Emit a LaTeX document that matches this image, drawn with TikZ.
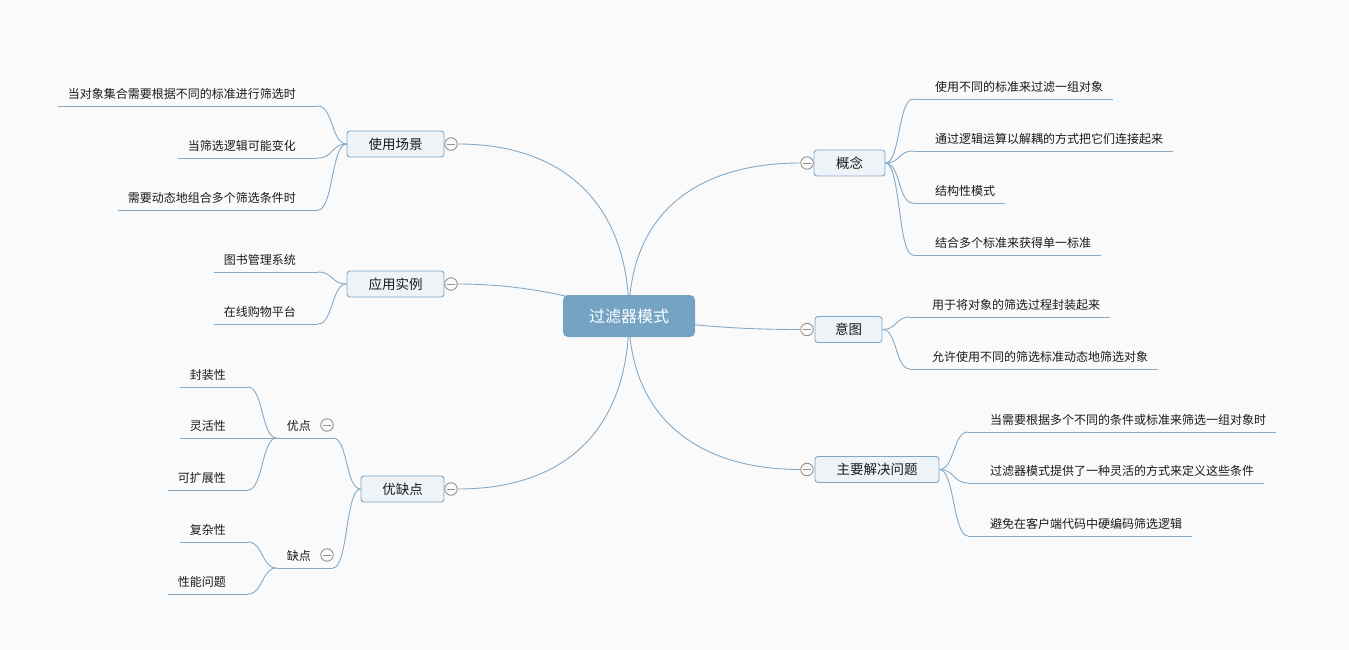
\documentclass[tikz,border=0pt]{standalone}
\usepackage{fontspec}
\setmainfont{Noto Sans CJK SC}
\usetikzlibrary{backgrounds}
\definecolor{bgc}{HTML}{FAFAFA}
\definecolor{rootc}{HTML}{74A3C3}
\definecolor{linec}{HTML}{84AAC8}
\definecolor{topicfill}{HTML}{EEF3F8}
\definecolor{topicline}{HTML}{7FA8C8}
\definecolor{foldc}{HTML}{939393}
\definecolor{txt}{HTML}{1A1A1A}
\tikzset{
  x=1pt, y=-1pt,
  root/.style={fill=rootc, rounded corners=5pt, minimum width=132pt, minimum height=42pt,
    inner sep=0pt, text=white, font=\fontsize{16}{18}\selectfont},
  topic/.style={draw=topicline, fill=topicfill, rounded corners=3pt, minimum height=26pt,
    inner sep=0pt, line width=0.9pt, text=txt, font=\fontsize{13.5}{15}\selectfont},
  leafbase/.style={inner xsep=10pt, inner ysep=5pt, text height=10pt, text depth=2pt,
    text=txt, font=\fontsize{12}{14}\selectfont},
  rleaf/.style={leafbase, anchor=south west, execute at begin node={\hspace*{12pt}}},
  lleaf/.style={leafbase, anchor=south east, execute at end node={\hspace*{12pt}}},
  fold/.style={circle, draw=foldc, fill=bgc, minimum size=12.5pt, inner sep=0pt, line width=0.9pt,
    path picture={\draw[foldc, line width=0.9pt] ([xshift=-4pt]path picture bounding box.center)
      -- ([xshift=4pt]path picture bounding box.center);}},
  conn/.style={draw=linec, line width=0.9pt},
}
\begin{document}
\begin{tikzpicture}
\useasboundingbox (0,0) rectangle (1349,650);
% root
\node[root] (root) at (629,316) {过滤器模式};
% main topics
\node[topic, minimum width=97pt] (t1) at (395.5,144) {使用场景};
\node[topic, minimum width=97pt] (t2) at (395.5,284) {应用实例};
\node[topic, minimum width=83pt] (t3) at (402.5,489) {优缺点};
\node[topic, minimum width=71pt] (t4) at (849.5,163) {概念};
\node[topic, minimum width=67pt] (t5) at (848.5,329.5) {意图};
\node[topic, minimum width=124pt] (t6) at (877,469.5) {主要解决问题};
% fold markers
\node[fold] (f1) at (451,144) {};
\node[fold] (f2) at (451,284) {};
\node[fold] (f3) at (451,489) {};
\node[fold] (f4) at (807,163) {};
\node[fold] (f5) at (807,329.5) {};
\node[fold] (f6) at (807,469.5) {};
% right leaves
\node[rleaf] (c1) at (913,99) {使用不同的标准来过滤一组对象};
\node[rleaf] (c2) at (913,151) {通过逻辑运算以解耦的方式把它们连接起来};
\node[rleaf] (c3) at (913,203) {结构性模式};
\node[rleaf] (c4) at (913,255) {结合多个标准来获得单一标准};
\node[rleaf] (y1) at (910,317) {用于将对象的筛选过程封装起来};
\node[rleaf] (y2) at (910,369) {允许使用不同的筛选标准动态地筛选对象};
\node[rleaf] (z1) at (968,432) {当需要根据多个不同的条件或标准来筛选一组对象时};
\node[rleaf] (z2) at (968,483) {过滤器模式提供了一种灵活的方式来定义这些条件};
\node[rleaf] (z3) at (968,536) {避免在客户端代码中硬编码筛选逻辑};
% left leaves
\node[lleaf] (s1) at (318,106) {当对象集合需要根据不同的标准进行筛选时};
\node[lleaf] (s2) at (318,158) {当筛选逻辑可能变化};
\node[lleaf] (s3) at (318,210) {需要动态地组合多个筛选条件时};
\node[lleaf] (a1) at (318,272) {图书管理系统};
\node[lleaf] (a2) at (318,324) {在线购物平台};
\node[lleaf] (pro) at (333,438) {优点};
\node[lleaf] (con) at (333,568) {缺点};
\node[fold] (fp) at (327,425) {};
\node[fold] (fc) at (327,555) {};
\node[lleaf] (p1) at (248,387) {封装性};
\node[lleaf] (p2) at (248,438) {灵活性};
\node[lleaf] (p3) at (248,490) {可扩展性};
\node[lleaf] (n1) at (248,542) {复杂性};
\node[lleaf] (n2) at (248,594) {性能问题};
\begin{scope}[on background layer]
  \fill[bgc] (0,0) rectangle (1349,650);
  % root to topics
  \draw[conn] (root.center) .. controls (629,205) and (565,144) .. (f1.east);
  \draw[conn] (f2.east) .. controls (530,284) and (590,300) .. (root.center);
  \draw[conn] (root.center) .. controls (629,430) and (565,489) .. (f3.east);
  \draw[conn] (root.center) .. controls (629,215) and (695,163) .. (f4.west);
  \draw[conn] (root.center) .. controls (690,326) and (740,329.5) .. (f5.west);
  \draw[conn] (root.center) .. controls (629,415) and (695,469.5) .. (f6.west);
  % underlines
  \foreach \n in {c1,c2,c3,c4,y1,y2,z1,z2,z3,s1,s2,s3,a1,a2,pro,con,p1,p2,p3,n1,n2}
    \draw[conn] (\n.south west) -- (\n.south east);
  % right branches
  \foreach \p/\c in {t4/c1,t4/c2,t4/c3,t4/c4,t5/y1,t5/y2,t6/z1,t6/z2,t6/z3}
    \draw[conn] (\p.east) .. controls +(15,0) and +(-15,0) .. (\c.south west);
  % left branches from topics
  \foreach \p/\c in {t1/s1,t1/s2,t1/s3,t2/a1,t2/a2}
    \draw[conn] (\c.south east) .. controls +(15,0) and +(-15,0) .. (\p.west);
  \foreach \c in {pro,con}
    \draw[conn] (\c.south east) .. controls +(15,0) and +(-15,0) .. (t3.west);
  % left branches from sub-topics
  \foreach \p/\c in {pro/p1,pro/p2,pro/p3,con/n1,con/n2}
    \draw[conn] (\c.south east) .. controls +(15,0) and +(-15,0) .. (\p.south west);
\end{scope}
\end{tikzpicture}
\end{document}
